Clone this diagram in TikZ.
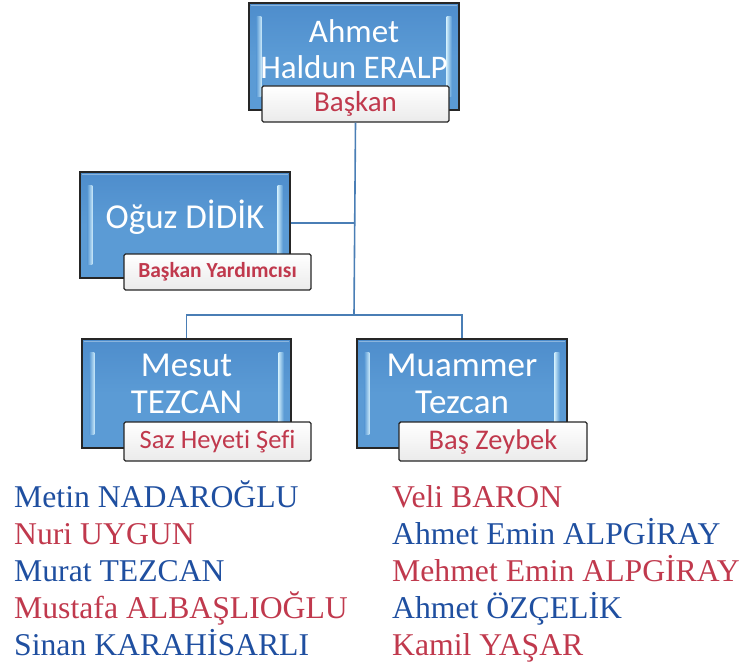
\documentclass[tikz,border=0pt]{standalone}
\usepackage{fontspec}
\setmainfont{Liberation Serif}
\newfontfamily\boxfont[Ligatures=NoCommon]{Carlito}
\usetikzlibrary{calc}
\definecolor{boxblue}{HTML}{5B9BD5}
\definecolor{boxtop}{HTML}{4E8DCC}
\definecolor{hlblue}{HTML}{C5E6F8}
\definecolor{linkblue}{HTML}{4A7EB5}
\definecolor{rolered}{HTML}{C0394D}
\definecolor{nameblue}{HTML}{1F4FA0}
\definecolor{namered}{HTML}{C0394D}
\tikzset{
  person/.style={draw=black!85, line width=1.4pt, top color=boxtop, bottom color=boxblue, middle color=boxblue, inner sep=0pt},
  persontext/.style={text=white, font=\boxfont\fontsize{35}{37}\selectfont, align=center, inner sep=0pt},
  role/.style={draw=black!85, line width=1.4pt, rounded corners=1.5pt, top color=white, bottom color=black!8, inner sep=0pt, text=rolered, font=\boxfont\fontsize{29}{32}\selectfont},
  link/.style={draw=linkblue, line width=1.6pt},
  listname/.style={anchor=base west, inner sep=0pt, font=\fontsize{31.7}{36}\selectfont}
}
\begin{document}
\begin{tikzpicture}[x=1pt,y=-1pt]
\useasboundingbox (0,0) rectangle (743,666);
% boxes
\node[person, minimum width=210pt, minimum height=107pt] (b1) at (354,56.5) {};
\node[person, minimum width=210pt, minimum height=106pt] (b2) at (185,225) {};
\node[person, minimum width=209pt, minimum height=109pt] (b3) at (186.5,393.5) {};
\node[person, minimum width=210pt, minimum height=109pt] (b4) at (462,393.5) {};
% bevel highlights
\foreach \b in {b1,b2,b3,b4}{
  \shade[left color=boxblue, right color=hlblue] ($(\b.north west)+(8,14)$) rectangle ($(\b.south west)+(13,-14)$);
  \shade[left color=hlblue, right color=boxblue] ($(\b.north east)+(-13,14)$) rectangle ($(\b.south east)+(-8,-14)$);
  \draw[white, opacity=0.35, line width=1pt] ($(\b.north west)+(3,3)$) -- ($(\b.north east)+(-3,3)$);
}
% texts
\node[persontext, font=\boxfont\fontsize{33}{36}\selectfont] (t1) at (354,49) {Ahmet\\Haldun ERALP};
\node[persontext, anchor=base] (t2) at (185,228) {Oğuz DİDİK};
\node[persontext] (t3) at (186.5,384) {Mesut\\TEZCAN};
\node[persontext] (t4) at (462,384) {Muammer\\Tezcan};
% role labels
\node[role, minimum width=187pt, minimum height=36pt] (r1) at (355.5,104) {Başkan};
\node[role, minimum width=187pt, minimum height=36pt, font=\boxfont\bfseries\fontsize{21.5}{24}\selectfont] (r2) at (217.5,272) {Başkan Yardımcısı};
\node[role, minimum width=187pt, minimum height=39pt, font=\boxfont\fontsize{26.5}{30}\selectfont] (r3) at (217.5,441.5) {Saz Heyeti Şefi};
\node[role, minimum width=188pt, minimum height=39pt, font=\boxfont\fontsize{28.5}{32}\selectfont] (r4) at (493,441.5) {Baş Zeybek};
% connectors
\coordinate (j1) at (354,223);
\coordinate (j2) at (354,315);
\draw[link] (r1.south) -- (j2);
\draw[link] (b2.east |- j1) -- (j1);
\draw[link] (b3.north) |- (j2) -| (b4.north);
% name lists
\node[listname, text=nameblue] (n1) at (14,507) {Metin NADAROĞLU};
\node[listname, text=namered] (n2) at (14,544) {Nuri UYGUN};
\node[listname, text=nameblue] (n3) at (14,581) {Murat TEZCAN};
\node[listname, text=namered] (n4) at (14,618) {Mustafa ALBAŞLIOĞLU};
\node[listname, text=nameblue] (n5) at (14,655) {Sinan KARAHİSARLI};
\node[listname, text=namered] (m1) at (392,507) {Veli BARON};
\node[listname, text=nameblue] (m2) at (392,544) {Ahmet Emin ALPGİRAY};
\node[listname, text=namered] (m3) at (392,581) {Mehmet Emin ALPGİRAY};
\node[listname, text=nameblue] (m4) at (392,618) {Ahmet ÖZÇELİK};
\node[listname, text=namered] (m5) at (392,655) {Kamil YAŞAR};
\end{tikzpicture}
\end{document}
